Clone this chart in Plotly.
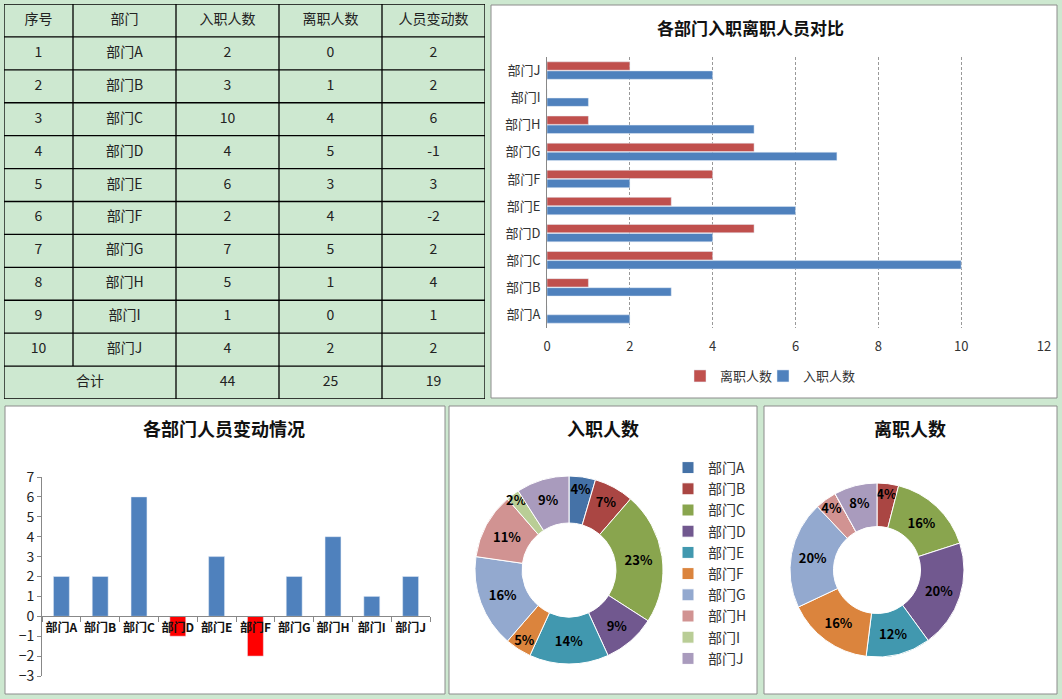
import plotly.graph_objects as go

# 数据
depts = ['部门A', '部门B', '部门C', '部门D', '部门E', '部门F', '部门G', '部门H', '部门I', '部门J']
in_counts = [2, 3, 10, 4, 6, 2, 7, 5, 1, 4]
out_counts = [0, 1, 4, 5, 3, 4, 5, 1, 0, 2]
change = [2, 2, 6, -1, 3, -2, 2, 4, 1, 2]
headers = ['序号', '部门', '入职人数', '离职人数', '人员变动数']
# Excel 显示的百分比标签
in_pct = ['4%', '7%', '23%', '9%', '14%', '5%', '16%', '11%', '2%', '9%']
out_pct = ['', '4%', '16%', '20%', '12%', '16%', '20%', '4%', '', '8%']

W, H = 1062, 699
FONT = 'Noto Sans CJK SC'
BG = '#CDE8D0'
pie_colors = ['#4572A7', '#AA4643', '#89A54E', '#71588F', '#4198AF',
              '#DB843D', '#93A9CF', '#D19392', '#B9CD96', '#A99BBD']


def px(x):
    return x / W


def py(y):
    return 1 - y / H


fig = go.Figure()

# ---------------- 表格 ----------------
col_edges = [0, 69, 172, 275, 378, 481]
col_mid = [(col_edges[i] + col_edges[i + 1]) / 2 for i in range(5)]
tx, ty, tt = [], [], []
for c, h in enumerate(headers):
    tx.append(col_mid[c]); ty.append(0.5); tt.append(h)
for r in range(len(depts)):
    row = [r + 1, depts[r], in_counts[r], out_counts[r], change[r]]
    for c, v in enumerate(row):
        tx.append(col_mid[c]); ty.append(r + 1.5); tt.append(str(v))
tx.append((col_edges[0] + col_edges[2]) / 2); ty.append(11.5); tt.append('合计')
for c, v in zip([2, 3, 4], [sum(in_counts), sum(out_counts), sum(change)]):
    tx.append(col_mid[c]); ty.append(11.5); tt.append(str(v))

fig.add_trace(go.Scatter(x=tx, y=ty, text=tt, mode='text', xaxis='x3', yaxis='y3',
                         textfont=dict(family=FONT, size=14, color='#222'),
                         cliponaxis=False, hoverinfo='skip', showlegend=False))

shapes = []
n_rows = len(depts) + 2
for r in range(n_rows + 1):
    shapes.append(dict(type='line', xref='x3', yref='y3', x0=0, x1=481, y0=r, y1=r,
                       line=dict(color='black', width=1.3)))
for i, e in enumerate(col_edges):
    y1 = n_rows - 1 if i == 1 else n_rows
    shapes.append(dict(type='line', xref='x3', yref='y3', x0=e, x1=e, y0=0, y1=y1,
                       line=dict(color='black', width=1.3)))

# ---------------- 面板背景 ----------------
for x0, y0, x1, y1 in [(491, 5, 1057, 398), (5, 406, 445, 694),
                       (449, 406, 757, 694), (764, 406, 1057, 694)]:
    shapes.append(dict(type='rect', xref='paper', yref='paper', layer='below',
                       x0=px(x0), x1=px(x1), y0=py(y1), y1=py(y0),
                       fillcolor='white', line=dict(color='#8C8C8C', width=1)))

# ---------------- 入职离职对比 (横向条形) ----------------
fig.add_trace(go.Bar(y=depts, x=in_counts, orientation='h', name='入职人数',
                     marker_color='#4F81BD', xaxis='x', yaxis='y', legend='legend4'))
fig.add_trace(go.Bar(y=depts, x=out_counts, orientation='h', name='离职人数',
                     marker_color='#C0504D', xaxis='x', yaxis='y', legend='legend'))

# ---------------- 人员变动 (柱形) ----------------
fig.add_trace(go.Bar(x=depts, y=change, width=0.41, showlegend=False,
                     marker_color=['#FF0000' if v < 0 else '#4F81BD' for v in change],
                     xaxis='x2', yaxis='y2'))

# ---------------- 环形图 ----------------
pie_font = dict(family=FONT, size=13, color='black', weight='bold')
fig.add_trace(go.Pie(labels=depts, values=in_counts, text=in_pct, textinfo='text',
                     hole=0.5, sort=False, direction='clockwise', rotation=0,
                     marker=dict(colors=pie_colors, line=dict(color='white', width=1)),
                     textposition='inside', insidetextorientation='horizontal',
                     textfont=pie_font,
                     domain=dict(x=[px(569 - 94), px(569 + 94)], y=[py(570 + 94), py(570 - 94)]),
                     legend='legend2', hoverinfo='label+value'))
fig.add_trace(go.Pie(labels=depts, values=out_counts, text=out_pct, textinfo='text',
                     hole=0.5, sort=False, direction='clockwise', rotation=0,
                     marker=dict(colors=pie_colors, line=dict(color='white', width=1)),
                     textposition='inside', insidetextorientation='horizontal',
                     textfont=pie_font,
                     domain=dict(x=[px(877 - 87), px(877 + 87)], y=[py(570 + 87), py(570 - 87)]),
                     legend='legend3', hoverinfo='label+value'))

# ---------------- 标题 ----------------
annotations = []
for text, x, y, s in [('各部门入职离职人员对比', 750, 27, 17), ('各部门人员变动情况', 224, 428, 18),
                      ('入职人数', 603, 428, 18), ('离职人数', 910, 428, 18)]:
    annotations.append(dict(text=text, x=px(x), y=py(y), xref='paper', yref='paper',
                            showarrow=False, xanchor='center', yanchor='middle',
                            font=dict(family=FONT, size=s, color='#111', weight='bold')))

y2_dom = [py(676), py(477)]
y2_range = [-3, 7]
zero_pos = y2_dom[0] + (0 - y2_range[0]) / (y2_range[1] - y2_range[0]) * (y2_dom[1] - y2_dom[0])

legend_common = dict(bgcolor='rgba(0,0,0,0)', font=dict(size=13, color='#333'),
                     xanchor='left', yanchor='middle')

fig.update_layout(
    width=W, height=H, autosize=False,
    margin=dict(l=0, r=0, t=0, b=0, pad=0, autoexpand=False),
    paper_bgcolor=BG, plot_bgcolor='rgba(0,0,0,0)',
    font=dict(family=FONT, size=13, color='#333'),
    barmode='group', bargap=0.33, bargroupgap=0.08,
    uniformtext=dict(minsize=13, mode='show'),
    shapes=shapes, annotations=annotations,
    xaxis=dict(domain=[px(547), px(1044)], range=[0, 12], dtick=2, automargin=False,
               showgrid=True, gridcolor='#999', griddash='3px,2px', gridwidth=1,
               zeroline=False, showline=False, ticks='outside', ticklen=6,
               tickcolor='rgba(0,0,0,0)', tickfont=dict(size=13, color='#333'),
               fixedrange=True),
    yaxis=dict(domain=[py(328), py(57)], anchor='x', showline=True, linecolor='#888',
               showgrid=False, ticks='', tickfont=dict(size=13, color='#333'),
               automargin=False, ticksuffix=' ', fixedrange=True),
    xaxis2=dict(domain=[px(42), px(430)], anchor='free', position=zero_pos,
                type='category', showline=True, linecolor='#888', ticks='outside',
                tickson='boundaries', ticklen=5, tickcolor='#888', showgrid=False,
                tickangle=0, automargin=False,
                tickfont=dict(size=12, color='#111', weight='bold'), fixedrange=True),
    yaxis2=dict(domain=y2_dom, anchor='x2', range=y2_range, dtick=1, automargin=False,
                showline=True, linecolor='#888', ticks='outside', ticklen=4,
                tickcolor='#888', showgrid=False, zeroline=False,
                tickfont=dict(size=14, color='#222'), fixedrange=True),
    xaxis3=dict(domain=[px(4), px(485)], range=[0, 481], visible=False,
                automargin=False, fixedrange=True),
    yaxis3=dict(domain=[py(399), py(4)], range=[n_rows, 0], anchor='x3',
                automargin=False, visible=False, fixedrange=True),
    legend=dict(x=px(680), y=py(376), **legend_common),
    legend4=dict(x=px(763), y=py(376), **legend_common),
    legend2=dict(x=px(668), y=py(452), xanchor='left', yanchor='top',
                 bgcolor='rgba(0,0,0,0)', font=dict(size=14, color='#333'),
                 tracegroupgap=0),
    legend3=dict(x=px(968), y=py(452), xanchor='left', yanchor='top',
                 bgcolor='rgba(0,0,0,0)', font=dict(size=14, color='#333'),
                 tracegroupgap=0),
)

fig.write_html('out.html', config={'displayModeBar': False},
               post_script="document.body.style.margin='0';document.body.style.overflow='hidden';")
